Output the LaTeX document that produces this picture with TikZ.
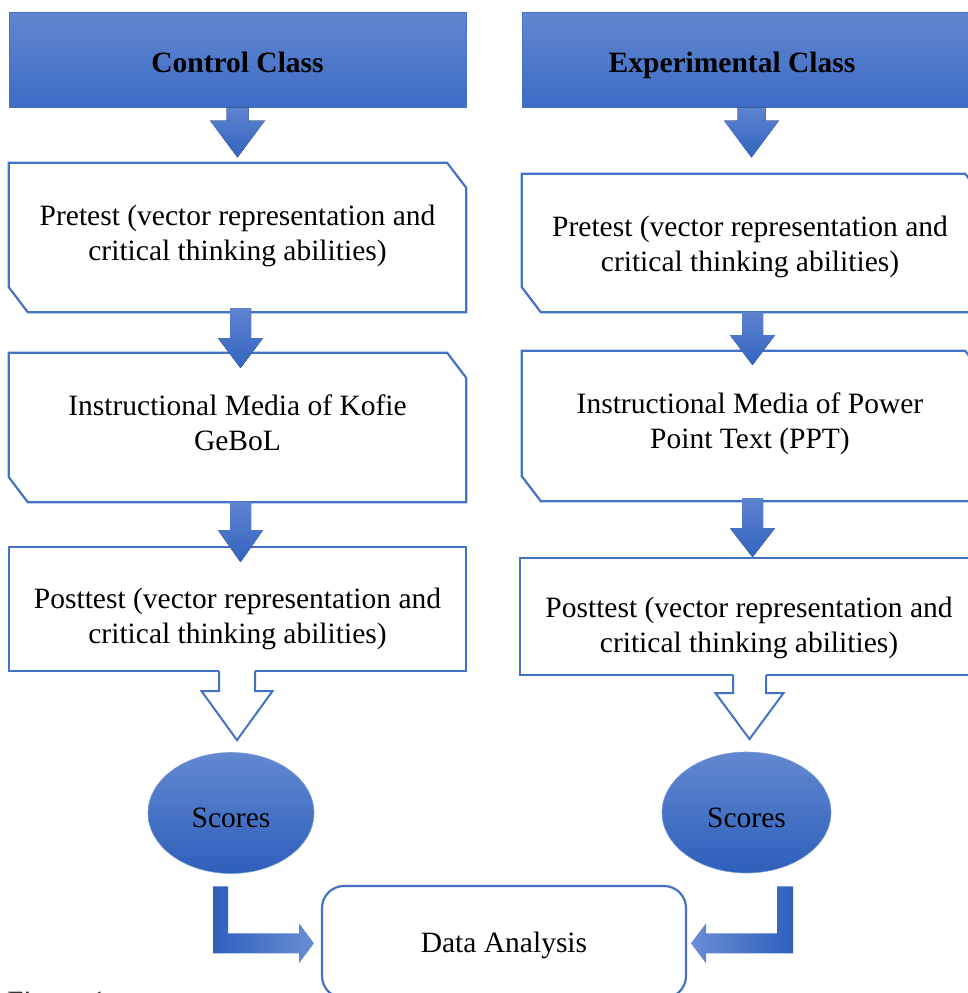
\documentclass[tikz,border=0pt]{standalone}
\usepackage{fontspec}
\setmainfont{Liberation Serif}
\usetikzlibrary{calc,shapes.geometric}
\definecolor{bordblue}{RGB}{68,114,196}
\definecolor{hdrtop}{RGB}{98,134,207}
\definecolor{hdrbot}{RGB}{60,108,197}
\definecolor{arrtop}{RGB}{94,131,207}
\definecolor{arrbot}{RGB}{50,100,192}
\definecolor{elltop}{RGB}{98,136,208}
\definecolor{ellbot}{RGB}{46,95,187}
\definecolor{bentdark}{RGB}{46,96,188}
\definecolor{bentlight}{RGB}{106,142,212}
\newcommand\snipbox[1]{\draw[boxline] (#1.north west) -- ($(#1.north east)+(-19,0)$) -- ($(#1.north east)+(0,25)$) -- (#1.south east) -- ($(#1.south west)+(19,0)$) -- ($(#1.south west)+(0,-25)$) -- cycle;}
\newcommand\downblock[5]{\fill[solidarrow] ($#1+(-#4,0)$) -- ++(0,#2) -- ++(#4-#5,0) -- ++(#5,#3) -- ++(#5,-#3) -- ++(#4-#5,0) -- ++(0,-#2) -- cycle;}
\newcommand\hollowdown[5]{\fill[white] ($#1+(-#4,-2.2)$) -- ++(0,#2+2.2) -- ++(#4-#5,0) -- ++(#5,#3) -- ++(#5,-#3) -- ++(#4-#5,0) -- ++(0,-#2-2.2) -- cycle;
 \draw[hollowarrow] ($#1+(-#4,-1.1)$) -- ++(0,#2+1.1) -- ++(#4-#5,0) -- ++(#5,#3) -- ++(#5,-#3) -- ++(#4-#5,0) -- ++(0,-#2-1.1);}
\begin{document}
\begin{tikzpicture}[x=1pt,y=-1pt,
  txt/.style={font=\fontsize{29.5}{35}\selectfont, align=center, text=black},
  btxt/.style={font=\fontsize{29.5}{35}\selectfont\bfseries, text=black, inner sep=0pt},
  hdr/.style={rectangle, inner sep=0pt, minimum height=95pt, top color=hdrtop, bottom color=hdrbot, draw=bordblue, line width=1pt},
  boxn/.style={rectangle, inner sep=0pt, draw=none},
  boxline/.style={draw=bordblue, line width=2.2pt, line join=miter},
  solidarrow/.style={top color=arrtop, bottom color=arrbot, draw=none},
  hollowarrow/.style={draw=bordblue, line width=2pt, line join=miter},
  scoresn/.style={ellipse, inner sep=0pt, top color=elltop, bottom color=ellbot, draw=bordblue!70!white, line width=0.6pt},
  databox/.style={rectangle, rounded corners=22pt, draw=bordblue, line width=2.2pt, fill=white, inner sep=0pt},
]
\useasboundingbox (0,0) rectangle (968,993);
\clip (0,0) rectangle (968,993);

% headers
\node[hdr, minimum width=457pt] (h1) at (237.5,59.5) {};
\node[btxt, anchor=base] (h1t) at (237.5,72) {Control Class};
\node[hdr, minimum width=462pt] (h2) at (753,59.5) {};
\node[btxt, anchor=base] (h2t) at (732,72) {Experimental Class};

% left column boxes
\node[boxn, minimum width=457pt, minimum height=149pt] (p1) at (237.5,237.5) {};
\snipbox{p1}
\node[txt] (p1t) at ($(p1.center)+(0,-2)$) {Pretest (vector representation and\\critical thinking abilities)};
\node[boxn, minimum width=457pt, minimum height=149pt] (i1) at (237.5,427.5) {};
\snipbox{i1}
\node[txt] (i1t) at ($(i1.center)+(0,-5)$) {Instructional Media of Kofie\\GeBoL};
\node[boxn, minimum width=457pt, minimum height=124pt, draw=bordblue, line width=2.2pt] (q1) at (237.5,609) {};
\node[txt] (q1t) at ($(q1.center)+(0,10)$) {Posttest (vector representation and\\critical thinking abilities)};

% right column boxes
\node[boxn, minimum width=462pt, minimum height=138pt] (p2) at (753,243) {};
\snipbox{p2}
\node[txt] (p2t) at ($(p2.center)+(-3,4)$) {Pretest (vector representation and\\critical thinking abilities)};
\node[boxn, minimum width=462pt, minimum height=150pt] (i2) at (753,426) {};
\snipbox{i2}
\node[txt] (i2t) at ($(i2.center)+(-3,-2)$) {Instructional Media of Power\\Point Text (PPT)};
\node[boxn, minimum width=462pt, minimum height=117pt, draw=bordblue, line width=2.2pt] (q2) at (751,616.5) {};
\node[txt] (q2t) at ($(q2.center)+(-2,11)$) {Posttest (vector representation and\\critical thinking abilities)};

% scores and data analysis
\node[scoresn, minimum width=166pt, minimum height=121pt] (s1) at (231,813) {};
\node[txt, anchor=base, inner sep=0pt] (s1t) at (231,827) {Scores};
\node[scoresn, minimum width=169pt, minimum height=121pt] (s2) at (746.5,812.5) {};
\node[txt, anchor=base, inner sep=0pt] (s2t) at (746.5,827) {Scores};
\node[databox, minimum width=364pt, minimum height=112pt] (d) at (504,942) {};
\node[txt, anchor=base, inner sep=0pt] (dt) at (504,952) {Data Analysis};

% solid block arrows
\downblock{(h1.south)}{13}{37}{11}{27.5}
\downblock{($(p1.south)+(3,-4)$)}{30}{30}{10.5}{22.5}
\downblock{($(i1.south)+(3,0)$)}{28}{32}{10.5}{22.5}
\downblock{($(h2.south)+(-1.5,0)$)}{13}{37}{14}{27.5}
\downblock{($(p2.south)+(-0.5,0)$)}{23}{30}{10.5}{22.5}
\downblock{($(i2.south)+(-0.5,-3)$)}{30}{29}{10.5}{22.5}

% hollow arrows
\hollowdown{($(q1.south)+(-0.5,0)$)}{19}{49}{18}{35.5}
\hollowdown{($(q2.south)+(-1.5,0)$)}{17}{46}{16.5}{34}

% bent arrows to data analysis
\path[left color=bentdark, right color=bentlight] ($(s1.south)+(-18,12.5)$) -- ++(15,0) -- ++(0,47) -- ++(71,0) -- ++(0,-10) -- ++(15,20) -- ++(-15,20) -- ++(0,-10) -- ++(-86,0) -- cycle;
\path[left color=bentlight, right color=bentdark] ($(s2.south)+(46.5,13)$) -- ++(-16,0) -- ++(0,47) -- ++(-71,0) -- ++(0,-10) -- ++(-15,20) -- ++(15,20) -- ++(0,-10) -- ++(87,0) -- cycle;

% caption fragment
\node[txt, anchor=base west, inner sep=0pt, text=black!80] (cap) at (7,1011) {Figure 1};
\end{tikzpicture}
\end{document}
